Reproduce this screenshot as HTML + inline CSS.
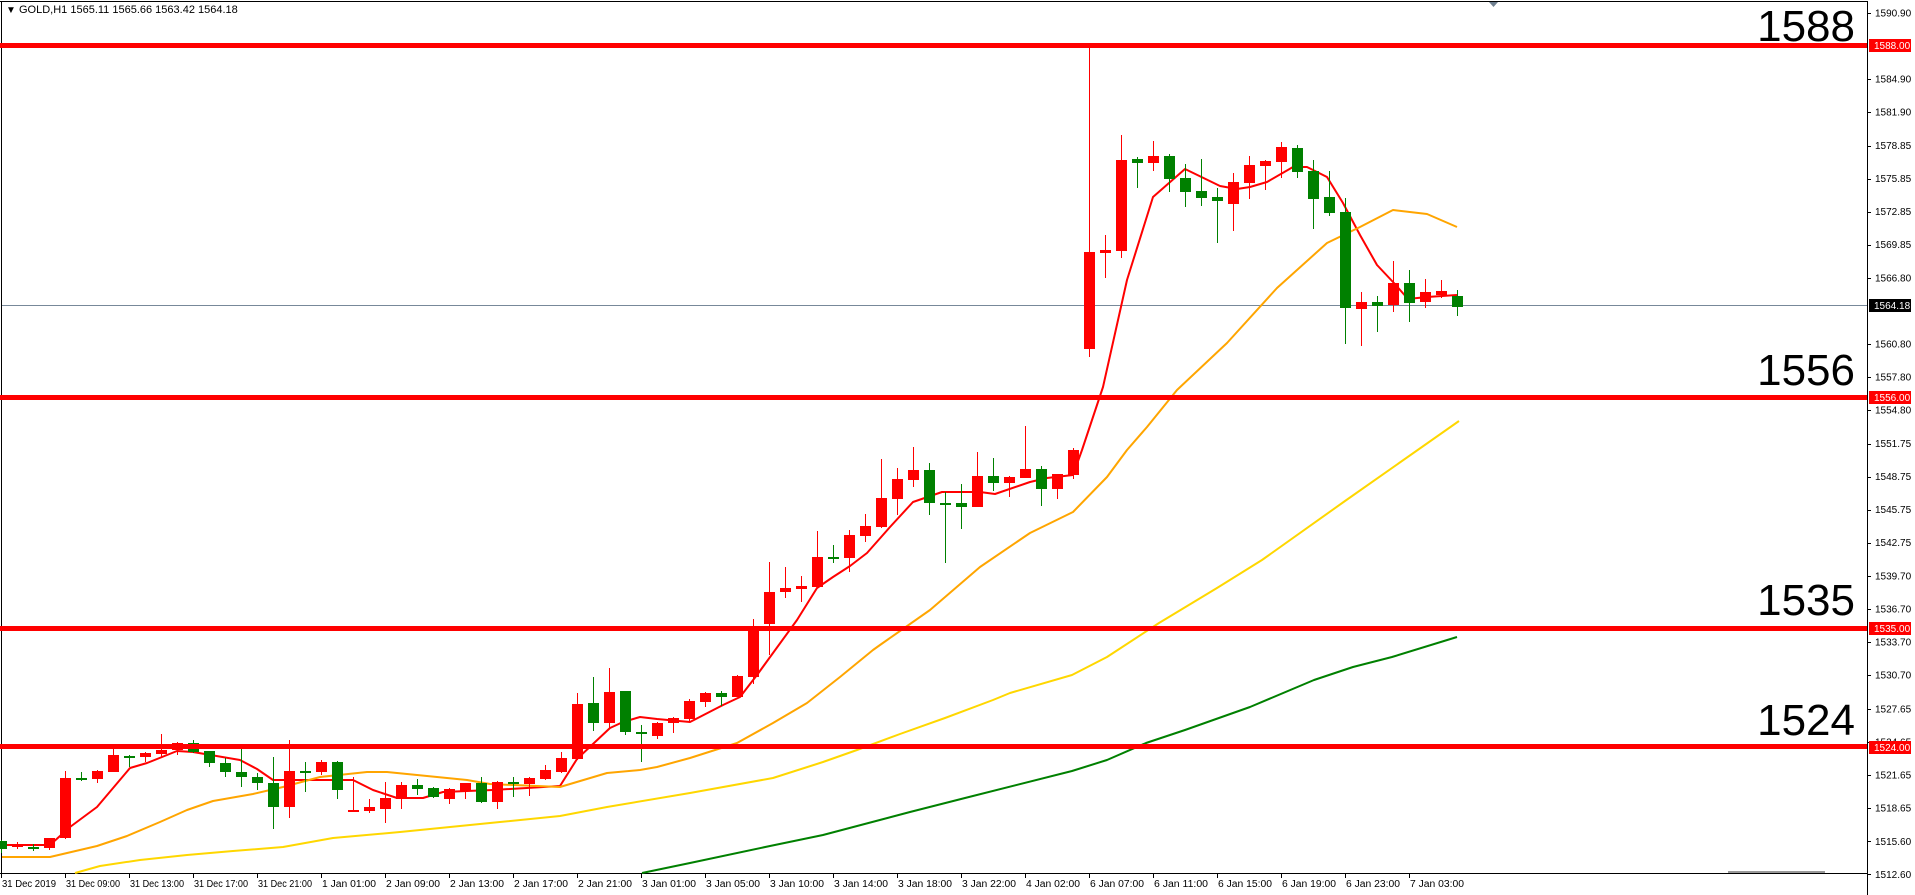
<!DOCTYPE html>
<html><head><meta charset="utf-8">
<style>
html,body{margin:0;padding:0;background:#fff;width:1915px;height:895px;overflow:hidden}
svg{display:block}
text{font-family:"Liberation Sans",sans-serif}
</style></head>
<body>
<svg id="s" width="1915" height="895" viewBox="0 0 1915 895" xmlns="http://www.w3.org/2000/svg">
<rect x="0" y="0" width="1915" height="895" fill="#fff"/>
<!-- frame -->
<line x1="0" y1="1.5" x2="1867" y2="1.5" stroke="#000" stroke-width="1"/>
<line x1="1.5" y1="1" x2="1.5" y2="873" stroke="#000" stroke-width="1"/>
<line x1="1867.5" y1="1" x2="1867.5" y2="895" stroke="#000" stroke-width="1"/>
<line x1="0" y1="873.5" x2="1867" y2="873.5" stroke="#000" stroke-width="1"/>
<polygon points="1489,2 1498,2 1493.5,7" fill="#708090"/>
<text x="6" y="13" font-size="10" fill="#000">▼</text>
<text x="19" y="13" font-size="11" fill="#000">GOLD,H1  1565.11 1565.66 1563.42 1564.18</text>
<!-- current price line -->
<line x1="2" y1="305.5" x2="1867" y2="305.5" stroke="#778899" stroke-width="1"/>
<g id="ma"></g>
<g id="c"></g>
<!-- horizontal levels -->
<rect x="0" y="43" width="1867" height="5" fill="#ff0000"/>
<rect x="0" y="395" width="1867" height="5" fill="#ff0000"/>
<rect x="0" y="626" width="1867" height="5" fill="#ff0000"/>
<rect x="0" y="744" width="1867" height="5" fill="#ff0000"/>
<g font-size="44" fill="#000" text-anchor="end">
<text x="1855" y="41">1588</text>
<text x="1855" y="385">1556</text>
<text x="1855" y="615">1535</text>
<text x="1855" y="735">1524</text>
</g>
<g id="ax" font-size="10" fill="#000"></g>
<g id="tx" font-size="10" fill="#000"></g>
<rect x="1728" y="871" width="97" height="2" fill="#999"/>
</svg>
<script>
var NS="http://www.w3.org/2000/svg";
function el(p,t,a,txt){var e=document.createElementNS(NS,t);for(var k in a)e.setAttribute(k,a[k]);if(txt!=null)e.textContent=txt;p.appendChild(e);return e;}
var C=[[0,'g',841,849,840,853],[1,'r',845,846,842,849],[2,'g',847,848,844,851],[3,'r',838,848,838,850],[4,'r',778,838,771,839],[5,'g',778,780,772,781],[6,'r',771,779,770,783],[7,'r',755,772,748,772],[8,'g',756,757,755,767],[9,'r',753,757,752,762],[10,'r',750,754,734,757],[11,'r',743,750,742,755],[12,'g',743,752,740,753],[13,'g',751,763,751,767],[14,'g',763,772,758,777],[15,'g',772,777,749,787],[16,'g',777,783,773,790],[17,'g',783,807,757,829],[18,'r',771,807,740,818],[19,'g',771,773,762,792],[20,'r',762,772,760,775],[21,'g',762,790,761,799],[22,'r',810,811,777,811],[23,'r',807,811,799,813],[24,'r',798,809,782,823],[25,'r',785,799,782,809],[26,'g',785,789,779,795],[27,'g',788,797,787,798],[28,'r',789,799,788,804],[29,'r',783,791,783,799],[30,'g',783,802,777,803],[31,'r',782,802,781,809],[32,'g',782,784,777,797],[33,'r',778,784,777,796],[34,'r',770,779,765,780],[35,'r',758,772,752,773],[36,'r',704,759,693,760],[37,'g',703,723,677,731],[38,'r',692,723,668,729],[39,'g',691,732,691,735],[40,'g',732,734,725,762],[41,'r',723,736,722,739],[42,'r',718,723,717,733],[43,'r',701,719,699,721],[44,'r',693,702,692,707],[45,'g',693,697,691,706],[46,'r',676,697,675,697],[47,'r',628,677,619,684],[48,'r',592,624,562,655],[49,'r',588,592,567,598],[50,'r',586,589,576,602],[51,'r',557,587,531,588],[52,'g',557,559,545,563],[53,'r',535,558,530,572],[54,'r',526,536,514,542],[55,'r',498,527,459,528],[56,'r',479,499,468,515],[57,'r',470,480,447,487],[58,'g',470,503,463,515],[59,'g',503,505,492,563],[60,'g',503,507,484,529],[61,'r',476,507,452,507],[62,'g',476,483,458,491],[63,'r',477,483,476,497],[64,'r',469,478,426,478],[65,'g',469,489,466,506],[66,'r',474,489,474,499],[67,'r',450,475,448,479],[68,'r',252,349,47,357],[69,'r',250,253,235,278],[70,'r',160,251,135,258],[71,'g',159,163,157,188],[72,'r',156,163,141,171],[73,'g',156,179,154,192],[74,'g',178,192,164,207],[75,'g',191,198,159,206],[76,'g',197,201,188,243],[77,'r',182,204,173,231],[78,'r',165,183,156,199],[79,'r',161,166,160,190],[80,'r',147,162,142,178],[81,'g',148,172,145,178],[82,'g',171,199,160,229],[83,'g',197,213,171,216],[84,'g',212,308,198,344],[85,'r',302,309,292,346],[86,'g',302,306,296,332],[87,'r',283,305,261,312],[88,'g',283,303,270,322],[89,'r',292,302,279,308],[90,'r',291,295,280,298],[91,'g',296,307,290,316]];
var cg=document.getElementById('c');
C.forEach(function(d){var cx=1+16*d[0];var col=d[1]=='r'?'#ff0000':'#008000';
el(cg,'rect',{x:cx,y:d[4],width:1,height:Math.max(1,d[5]-d[4]),fill:col});
el(cg,'rect',{x:cx-5,y:d[2],width:11,height:Math.max(2,d[3]-d[2]),fill:col});});
var MA=[
['#ff0000',[[2,845],[50,845],[70,827],[97,807],[130,768],[147,763],[177,751],[193,752],[240,760],[257,769],[273,780],[313,780],[353,780],[373,790],[397,798],[423,798],[443,792],[467,791],[493,790],[560,786],[577,759],[610,728],[623,722],[640,717],[657,719],[690,722],[723,705],[740,697],[757,675],[797,620],[817,588],[833,577],[850,566],[867,553],[890,527],[913,502],[942,492],[980,492],[995,494],[1030,482],[1047,478],[1073,475],[1082,450],[1103,387],[1127,280],[1153,197],[1185,169],[1220,186],[1237,189],[1250,187],[1267,182],[1293,167],[1307,167],[1327,177],[1343,203],[1360,235],[1377,265],[1393,282],[1408,299],[1427,297],[1457,295]]],
['#ffa500',[[2,857],[50,857],[97,846],[127,836],[160,822],[187,810],[213,801],[253,794],[283,787],[320,777],[367,772],[387,772],[427,776],[467,780],[490,784],[560,787],[607,773],[640,770],[657,767],[690,758],[737,743],[773,723],[807,703],[840,677],[873,650],[880,645],[930,610],[980,567],[1030,533],[1073,512],[1107,477],[1127,450],[1147,427],[1177,390],[1227,343],[1277,288],[1327,243],[1360,227],[1393,210],[1427,214],[1457,227]]],
['#ffd700',[[75,873],[100,866],[140,860],[187,855],[233,851],[283,847],[333,838],[400,832],[500,822],[560,816],[607,807],[690,793],[773,778],[823,762],[857,750],[900,734],[945,718],[993,700],[1010,693],[1072,675],[1107,657],[1159,623],[1217,588],[1262,560],[1345,501],[1459,421]]],
['#008000',[[642,873],[690,863],[770,846],[823,835],[910,812],[965,798],[1072,771],[1107,760],[1146,743],[1185,730],[1250,707],[1314,680],[1353,667],[1392,657],[1457,637]]]];
var mg=document.getElementById('ma');
MA.forEach(function(m){el(mg,'polyline',{points:m[1].map(function(p){return p.join(',')}).join(' '),fill:'none',stroke:m[0],'stroke-width':2,'stroke-linejoin':'round'});});
var ax=document.getElementById('ax');
var P=['1590.90','1584.90','1581.90','1578.85','1575.85','1572.85','1569.85','1566.80','1560.80','1557.80','1554.80','1551.75','1548.75','1545.75','1542.75','1539.70','1536.70','1533.70','1530.70','1527.65','1524.65','1521.65','1518.65','1515.60','1512.60'];
P.forEach(function(p){var y=13+(1590.9-parseFloat(p))*11;el(ax,'rect',{x:1868,y:Math.round(y),width:3,height:1,fill:'#000'});el(ax,'text',{x:1875,y:y+3.5},p);});
[['1588.00',45,'#ff0000'],['1556.00',397,'#ff0000'],['1535.00',628,'#ff0000'],['1524.00',747,'#ff0000'],['1564.18',305,'#000']].forEach(function(b){
el(ax,'rect',{x:1869,y:b[1]-6,width:42,height:13,fill:b[2]});el(ax,'text',{x:1874,y:b[1]+4,fill:'#fff'},b[0]);});
var tx=document.getElementById('tx');
var T=['31 Dec 2019','31 Dec 09:00','31 Dec 13:00','31 Dec 17:00','31 Dec 21:00','1 Jan 01:00','2 Jan 09:00','2 Jan 13:00','2 Jan 17:00','2 Jan 21:00','3 Jan 01:00','3 Jan 05:00','3 Jan 10:00','3 Jan 14:00','3 Jan 18:00','3 Jan 22:00','4 Jan 02:00','6 Jan 07:00','6 Jan 11:00','6 Jan 15:00','6 Jan 19:00','6 Jan 23:00','7 Jan 03:00'];
T.forEach(function(t,i){var x=1+64*i;el(tx,'rect',{x:x,y:874,width:1,height:4,fill:'#000'});el(tx,'text',{x:x+1,y:887,'textLength':54,'lengthAdjust':'spacingAndGlyphs'},t);});
</script>
</body></html>
